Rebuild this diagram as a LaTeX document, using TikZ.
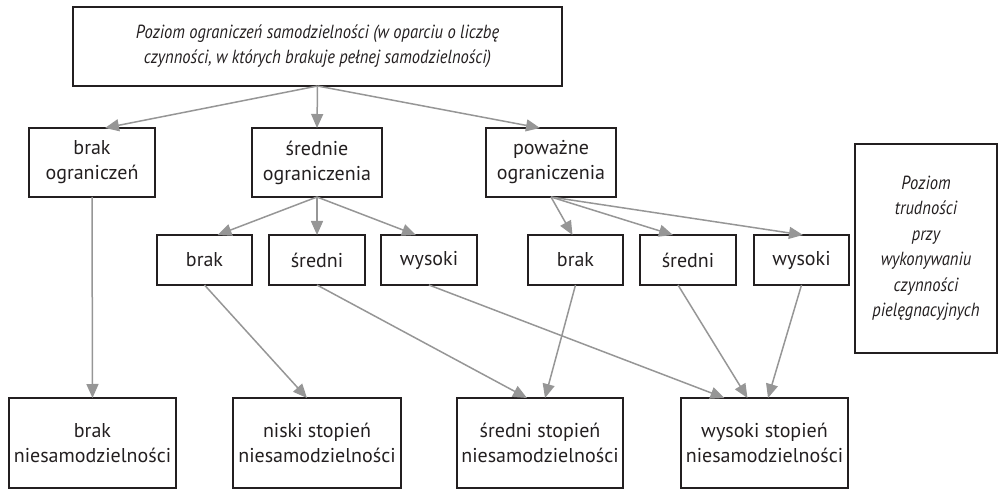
\documentclass[tikz,border=0pt]{standalone}
\usepackage{fontspec}
\setmainfont{PT Sans}
\newfontfamily\notefont[FakeStretch=0.87]{PT Sans}
\usepackage{tikz}
\usetikzlibrary{arrows.meta}
\definecolor{arrowgray}{RGB}{150,150,150}
\definecolor{boxline}{RGB}{35,31,32}

\begin{document}
\begin{tikzpicture}[x=1pt,y=-1pt,
    box/.style={draw=boxline,line width=1.8pt,align=center,inner sep=2pt,outer sep=0pt,
        font=\fontsize{20}{25}\selectfont,text=boxline},
    note/.style={box,font=\notefont\itshape\fontsize{19}{25.5}\selectfont},
    link/.style={draw=arrowgray,line width=1.5pt,-{Triangle[length=14pt,width=12pt]}}]
    \useasboundingbox (0,0) rectangle (1002,489);
    %Top level
    \node[note,minimum width=489,minimum height=79] (poziom) at (317.5,46.5)
        {Poziom ograniczeń samodzielności (w oparciu o liczbę\\czynności, w których brakuje pełnej samodzielności)};
    %Limitations
    \node[box,minimum width=126,minimum height=69] (brakogr) at (92,162.5) {brak\\ograniczeń};
    \node[box,minimum width=130,minimum height=69] (sredogr) at (317,162.5) {średnie\\ograniczenia};
    \node[box,minimum width=130,minimum height=69] (powogr) at (551,162.5) {poważne\\ograniczenia};
    %Difficulty
    \node[box,minimum width=95,minimum height=50] (braka) at (204.5,260) {brak};
    \node[box,minimum width=96,minimum height=50] (sreda) at (317,260) {średni};
    \node[box,minimum width=96,minimum height=50] (wysa) at (429,260) {wysoki};
    \node[box,minimum width=95,minimum height=50] (brakb) at (575.5,260) {brak};
    \node[box,minimum width=96,minimum height=50] (sredb) at (688,260) {średni};
    \node[box,minimum width=95,minimum height=50] (wysb) at (801.5,260) {wysoki};
    \node[note,minimum width=142,minimum height=209] (trudnosc) at (926,248.5)
        {Poziom\\trudności\\przy\\wykonywaniu\\czynności\\pielęgnacyjnych};
    %Dependency
    \node[box,minimum width=167,minimum height=90] (brakn) at (92.5,443) {brak\\niesamodzielności};
    \node[box,minimum width=168,minimum height=90] (niskin) at (317,443) {niski stopień\\niesamodzielności};
    \node[box,minimum width=166,minimum height=90] (sredn) at (540,443) {średni stopień\\niesamodzielności};
    \node[box,minimum width=167,minimum height=90] (wysn) at (764.5,443) {wysoki stopień\\niesamodzielności};
    %Arrows
    \draw[link] (poziom.south) -- ([xshift=13pt]brakogr.north);
    \draw[link] (poziom.south) -- (sredogr.north);
    \draw[link] (poziom.south) -- ([xshift=-11pt]powogr.north);
    \draw[link] (sredogr.south) -- ([xshift=13pt]braka.north);
    \draw[link] (sredogr.south) -- (sreda.north);
    \draw[link] (sredogr.south) -- ([xshift=-13pt]wysa.north);
    \draw[link] (powogr.south) -- ([xshift=-3pt]brakb.north);
    \draw[link] (powogr.south) -- ([xshift=-15pt]sredb.north);
    \draw[link] (powogr.south) -- ([xshift=1.5pt]wysb.north);
    \draw[link] (brakogr.south) -- (brakn.north);
    \draw[link] (braka.south) -- ([xshift=-10pt]niskin.north);
    \draw[link] (sreda.south) -- ([xshift=-13pt]sredn.north);
    \draw[link] (wysa.south) -- ([xshift=-40pt]wysn.north);
    \draw[link] (brakb.south) -- ([xshift=5pt]sredn.north);
    \draw[link] ([xshift=-10pt]sredb.south) -- ([xshift=-17pt]wysn.north);
    \draw[link] (wysb.south) -- ([xshift=3.5pt]wysn.north);
\end{tikzpicture}
\end{document}
